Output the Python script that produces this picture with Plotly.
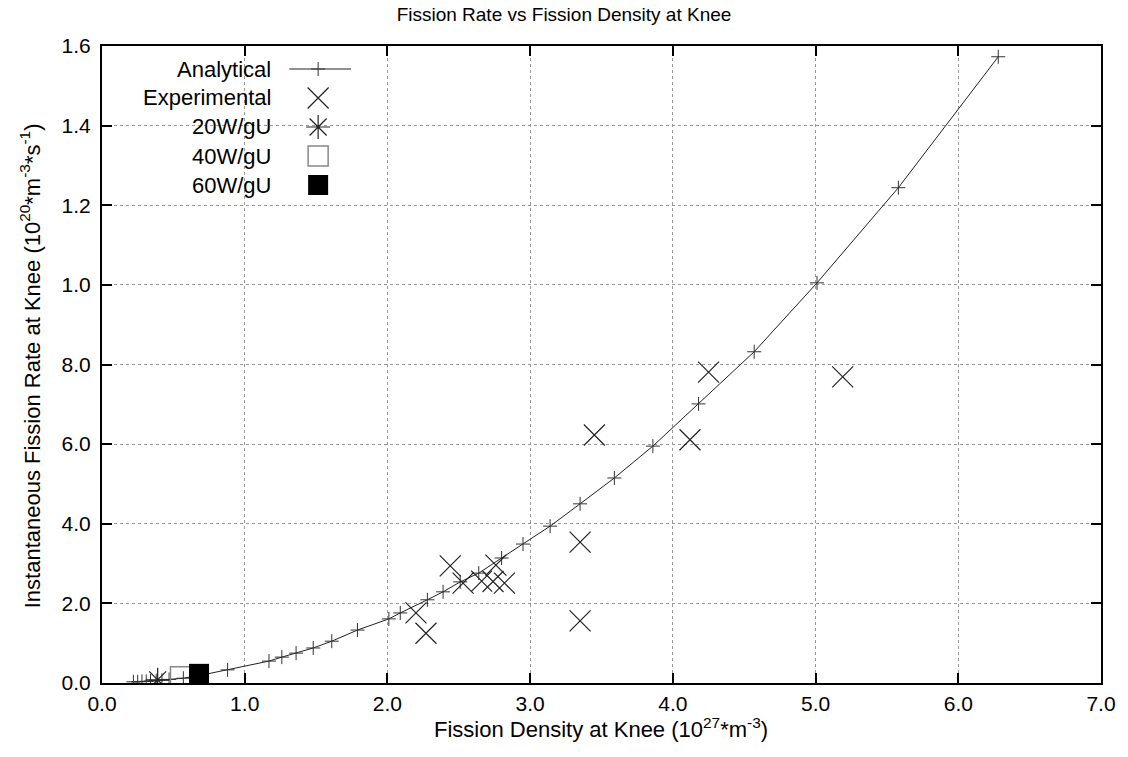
import plotly.graph_objects as go

# Analytical curve
ana_x = [0.22, 0.25, 0.28, 0.31, 0.34, 0.38, 0.42, 0.47, 0.57, 0.70, 0.88, 1.17, 1.26, 1.36, 1.48, 1.61,
         1.79, 2.01, 2.09, 2.28, 2.39, 2.51, 2.64, 2.80, 2.95, 3.14, 3.35, 3.59, 3.86, 4.18, 4.57,
         5.01, 5.58, 6.28]
ana_y = [0.003, 0.003, 0.004, 0.004, 0.005, 0.006, 0.007, 0.009, 0.012, 0.020, 0.033, 0.055, 0.065,
         0.075, 0.088, 0.105, 0.133, 0.161, 0.176, 0.209, 0.229, 0.254, 0.276, 0.314, 0.349, 0.394,
         0.450, 0.515, 0.595, 0.701, 0.832, 1.005, 1.244, 1.573]

# Experimental
exp_x = [2.20, 2.27, 2.44, 2.53, 2.66, 2.74, 2.76, 2.82, 3.35, 3.35, 3.45, 4.12, 4.25, 5.19]
exp_y = [0.176, 0.125, 0.294, 0.251, 0.256, 0.255, 0.296, 0.251, 0.354, 0.156, 0.623, 0.611, 0.781, 0.769]

w20_x, w20_y = [0.39], [0.008]
w40_x, w40_y = [0.55], [0.016]
w60_x, w60_y = [0.68], [0.023]

series_names = ["Analytical", "Experimental", "20W/gU", "40W/gU", "60W/gU"]

xtick_vals = [0, 1, 2, 3, 4, 5, 6, 7]
xtick_text = ["0.0", "1.0", "2.0", "3.0", "4.0", "5.0", "6.0", "7.0"]
ytick_vals = [0, 0.2, 0.4, 0.6, 0.8, 1.0, 1.2, 1.4, 1.6]
ytick_text = ["0.0", "2.0", "4.0", "6.0", "8.0", "1.0", "1.2", "1.4", "1.6"]

x_title = "Fission Density at Knee (10<sup>27</sup>*m<sup>-3</sup>)"
y_title = "Instantaneous Fission Rate at Knee (10<sup>20</sup>*m<sup>-3</sup>*s<sup>-1</sup>)"

# Figure geometry (pixels) for placing the legend in the plot area
W, H = 1128, 757
ML, MR, MT, MB = 102, 23, 46, 74
PW, PH = W - ML - MR, H - MT - MB


def px_x(px):
    return (px - ML) / PW


def px_y(py):
    return (H - MB - py) / PH


styles = [
    dict(mode="lines+markers", line=dict(color="#222222", width=1),
         marker=dict(symbol="cross-thin", size=10, line=dict(color="#333333", width=1))),
    dict(mode="markers", marker=dict(symbol="x-thin", size=21, line=dict(color="#222222", width=1.2))),
    dict(mode="markers", marker=dict(symbol="asterisk", size=20, line=dict(color="#222222", width=1.2))),
    dict(mode="markers", marker=dict(symbol="square-open", size=20, color="#888888", line=dict(width=1.5))),
    dict(mode="markers", marker=dict(symbol="square", size=20, color="black", line=dict(width=0))),
]
data = [(ana_x, ana_y), (exp_x, exp_y), (w20_x, w20_y), (w40_x, w40_y), (w60_x, w60_y)]

fig = go.Figure()
for name, (xs, ys), st in zip(series_names, data, styles):
    fig.add_trace(go.Scatter(x=xs, y=ys, name=name, showlegend=False, xaxis="x", yaxis="y", **st))

# Custom legend (gnuplot style: text right-aligned, key to the right)
font = "Liberation Sans, Arial, Helvetica, sans-serif"
row_px = [69, 98, 127, 156, 185]
key_cx = px_x(319)
for i, (name, st) in enumerate(zip(series_names, styles)):
    yk = px_y(row_px[i])
    if i == 0:
        fig.add_trace(go.Scatter(x=[px_x(290), key_cx, px_x(352)], y=[yk, yk, yk], mode="lines",
                                 line=st["line"], xaxis="x2", yaxis="y2", showlegend=False,
                                 hoverinfo="skip"))
    fig.add_trace(go.Scatter(x=[key_cx], y=[yk], mode="markers", marker=st["marker"],
                             xaxis="x2", yaxis="y2", showlegend=False, hoverinfo="skip"))
    fig.add_annotation(x=px_x(274), y=yk, xref="paper", yref="paper", text=name,
                       showarrow=False, xanchor="right", yanchor="middle",
                       font=dict(size=22, family=font, color="black"))

# white box behind legend hides gridlines
fig.add_shape(type="rect", xref="paper", yref="paper", x0=0.002, x1=px_x(363),
              y0=px_y(200), y1=0.997, fillcolor="white", line=dict(width=0), layer="below")

# axis titles placed as annotations
fig.add_annotation(x=px_x(603), y=px_y(744), xref="paper", yref="paper", text=x_title,
                   showarrow=False, xanchor="center", yanchor="bottom",
                   font=dict(size=22, family=font, color="black"))
fig.add_annotation(x=px_x(30), y=px_y(366), xref="paper", yref="paper", text=y_title,
                   showarrow=False, xanchor="center", yanchor="middle", textangle=-90,
                   font=dict(size=22, family=font, color="black"))

axis_common = dict(showline=True, linecolor="black", linewidth=2, mirror="ticks",
                   ticks="inside", ticklen=10, tickwidth=2, tickcolor="black",
                   showgrid=True, gridcolor="#999999", griddash="dot", gridwidth=1,
                   zeroline=False, tickfont=dict(size=21, color="black", family=font))

xaxis = dict(range=[0, 7], tickvals=xtick_vals, ticktext=xtick_text, anchor="y",
             ticklabelstandoff=1, **axis_common)
yaxis = dict(range=[0, 1.6], tickvals=ytick_vals, ticktext=ytick_text, anchor="x",
             ticklabelstandoff=5, **axis_common)

fig.update_layout(
    width=W, height=H,
    margin=dict(l=ML, r=MR, t=MT, b=MB),
    paper_bgcolor="white", plot_bgcolor="white",
    title=dict(text="Fission Rate vs Fission Density at Knee", x=0.5, xanchor="center",
               y=0.99, yanchor="top", font=dict(size=19, family=font, color="black")),
    font=dict(family=font, color="black"),
    showlegend=False,
    xaxis=xaxis,
    yaxis=yaxis,
    xaxis2=dict(overlaying="x", range=[0, 1], visible=False, anchor="y2"),
    yaxis2=dict(overlaying="y", range=[0, 1], visible=False, anchor="x2"),
)

fig.write_html("out.html")
